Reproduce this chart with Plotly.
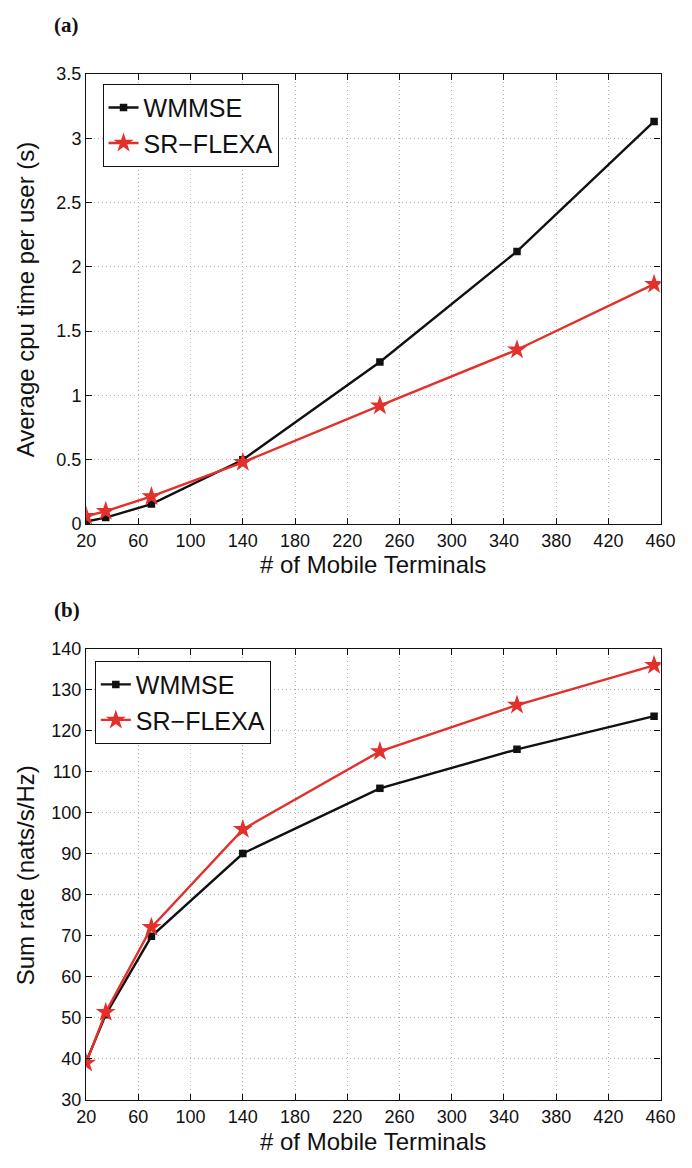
import plotly.graph_objects as go

# ---- data ----
terminals = [20, 35, 70, 140, 245, 350, 455]
cpu_wmmse = [0.02, 0.05, 0.155, 0.50, 1.26, 2.12, 3.13]
cpu_flexa = [0.06, 0.10, 0.215, 0.48, 0.92, 1.355, 1.865]
rate_wmmse = [39.3, 50.8, 69.9, 90.1, 106.0, 115.5, 123.6]
rate_flexa = [39.0, 51.4, 72.1, 96.0, 115.0, 126.3, 136.0]
x_ticks = list(range(20, 461, 40))
cpu_ticks = [0, 0.5, 1, 1.5, 2, 2.5, 3, 3.5]
cpu_tick_text = ["0", "0.5", "1", "1.5", "2", "2.5", "3", "3.5"]
rate_ticks = list(range(30, 141, 10))
series_names = ["WMMSE", "SR\u2212FLEXA"]

W, H = 692, 1168
BLACK = "#111111"
RED = "#e3302a"
FONT = "Liberation Sans, Arial, Helvetica, sans-serif"

def px_x(p):
    return p / W

def px_y(p):
    return 1 - p / H

fig = go.Figure()

# top panel
fig.add_trace(go.Scatter(x=terminals, y=cpu_wmmse, name=series_names[0], mode="lines+markers",
                         line=dict(color=BLACK, width=2.4), marker=dict(symbol="square", size=7.5, color=BLACK),
                         xaxis="x", yaxis="y", legend="legend"))
fig.add_trace(go.Scatter(x=terminals, y=cpu_flexa, name=series_names[1], mode="lines+markers",
                         line=dict(color=RED, width=2.4), marker=dict(symbol="star", size=15, color=RED),
                         xaxis="x", yaxis="y", legend="legend"))
# bottom panel
fig.add_trace(go.Scatter(x=terminals, y=rate_wmmse, name=series_names[0], mode="lines+markers",
                         line=dict(color=BLACK, width=2.4), marker=dict(symbol="square", size=7.5, color=BLACK),
                         xaxis="x2", yaxis="y2", legend="legend2"))
fig.add_trace(go.Scatter(x=terminals, y=rate_flexa, name=series_names[1], mode="lines+markers",
                         line=dict(color=RED, width=2.4), marker=dict(symbol="star", size=15, color=RED),
                         xaxis="x2", yaxis="y2", legend="legend2"))

axis_common = dict(showline=True, linecolor=BLACK, linewidth=1.3, mirror="ticks",
                   ticks="inside", ticklen=6, tickcolor=BLACK, tickwidth=1,
                   showgrid=True, gridcolor="#b0b0b0", griddash="1px,3px", gridwidth=1,
                   zeroline=False, tickfont=dict(family=FONT, size=18, color=BLACK))

xdom = [px_x(79), px_x(675)]
fig.update_layout(
    width=W, height=H, autosize=False,
    margin=dict(l=0, r=0, t=0, b=0),
    paper_bgcolor="white", plot_bgcolor="white",
    font=dict(family=FONT, color=BLACK),
    xaxis=dict(domain=xdom, range=[20, 460], tickvals=x_ticks, anchor="y", **axis_common),
    yaxis=dict(domain=[px_y(523), px_y(65)], range=[0, 3.5], tickvals=cpu_ticks,
               ticktext=cpu_tick_text, anchor="x", **axis_common),
    xaxis2=dict(domain=xdom, range=[20, 460], tickvals=x_ticks, anchor="y2", **axis_common),
    yaxis2=dict(domain=[px_y(1109), px_y(650)], range=[30, 140], tickvals=rate_ticks,
                anchor="x2", **axis_common),
    legend=dict(x=px_x(96), y=px_y(75), xanchor="left", yanchor="top",
                bgcolor="white", bordercolor=BLACK, borderwidth=1,
                font=dict(family=FONT, size=25, color=BLACK), tracegroupgap=0,
                itemwidth=30),
    legend2=dict(x=px_x(88), y=px_y(662), xanchor="left", yanchor="top",
                 bgcolor="white", bordercolor=BLACK, borderwidth=1,
                 font=dict(family=FONT, size=25, color=BLACK), tracegroupgap=0,
                 itemwidth=30),
    showlegend=True,
)

annots = [
    dict(text="<b>(a)</b>", x=px_x(44), y=px_y(15), xanchor="left", yanchor="middle",
         font=dict(family="Liberation Serif, Times New Roman, serif", size=21, color=BLACK)),
    dict(text="<b>(b)</b>", x=px_x(44), y=px_y(610), xanchor="left", yanchor="middle",
         font=dict(family="Liberation Serif, Times New Roman, serif", size=21, color=BLACK)),
    dict(text="# of Mobile Terminals", x=px_x(377), y=px_y(564), xanchor="center", yanchor="middle",
         font=dict(family=FONT, size=24, color=BLACK)),
    dict(text="# of Mobile Terminals", x=px_x(377), y=px_y(1151), xanchor="center", yanchor="middle",
         font=dict(family=FONT, size=24, color=BLACK)),
    dict(text="Average cpu time per user (s)", x=px_x(17), y=px_y(294), xanchor="center", yanchor="middle",
         textangle=-90, font=dict(family=FONT, size=24, color=BLACK)),
    dict(text="Sum rate (nats/s/Hz)", x=px_x(17), y=px_y(880), xanchor="center", yanchor="middle",
         textangle=-90, font=dict(family=FONT, size=24, color=BLACK)),
]
for a in annots:
    a.update(xref="paper", yref="paper", showarrow=False)
fig.update_layout(annotations=annots)

fig.write_html("out.html")
